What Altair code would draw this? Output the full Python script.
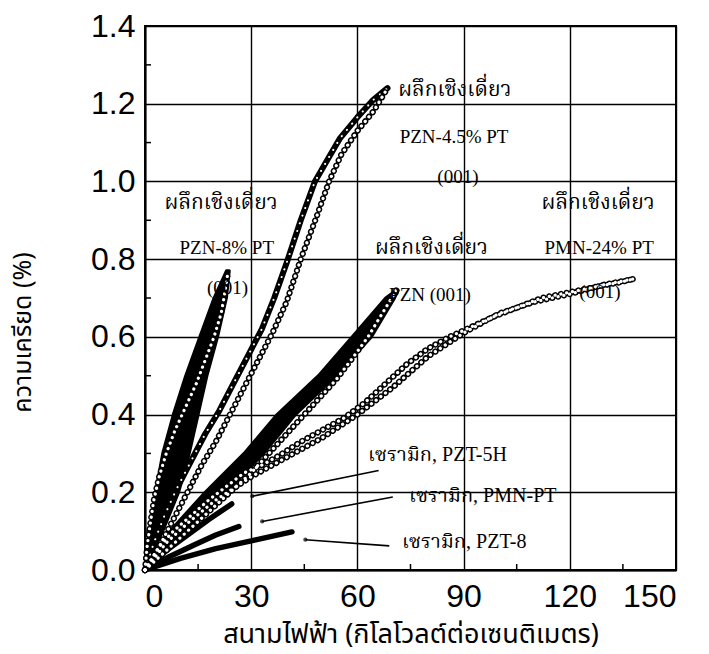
import altair as alt
import pandas as pd

# ---------------- data ----------------
# Electric field E (kV/cm), strain S (%)

# PZN-8% PT (001) single crystal: broad black loop (left/right edge at strain levels)
pzn8_band_S = [0, 0.1, 0.2, 0.3, 0.4, 0.5, 0.6, 0.7, 0.77]
pzn8_band_left_E = [0, 1.2, 3, 5, 8, 11.5, 15.5, 19.5, 23]
pzn8_band_right_E = [0, 5, 9.5, 12.5, 15, 17.5, 20.5, 23, 23.8]
pzn8_open_E = [0, 0.6, 1.5, 2.5, 4, 6, 8.5, 11.5, 14.5, 17, 19.5, 21.5, 22.3, 23, 23.5]
pzn8_open_S = [0, 0.06, 0.12, 0.18, 0.24, 0.3, 0.36, 0.42, 0.48, 0.54, 0.6, 0.66, 0.7, 0.74, 0.77]

# PZN-4.5% PT (001) single crystal
pzn45_left_E = [0, 2.5, 5.5, 9, 13, 17, 21, 25, 29, 33, 36.5, 40, 44, 48, 51.5, 55, 60, 64.5, 68.5]
pzn45_left_S = [0, 0.07, 0.14, 0.21, 0.28, 0.35, 0.41, 0.48, 0.55, 0.62, 0.7, 0.79, 0.9, 1.0, 1.055, 1.11, 1.165, 1.21, 1.24]
pzn45_right_E = [0, 4, 8, 12, 16, 20, 24, 28, 32, 36, 40, 44, 48.5, 52, 55.5, 60, 64.5, 68.5]
pzn45_right_S = [0, 0.06, 0.13, 0.2, 0.27, 0.33, 0.4, 0.47, 0.54, 0.61, 0.69, 0.8, 0.91, 1.0, 1.07, 1.13, 1.18, 1.24]

# PZN (001) single crystal: black loop band + open-circle branch
pzn_band_S = [0, 0.1, 0.2, 0.3, 0.4, 0.5, 0.6, 0.7, 0.72]
pzn_band_left_E = [0, 7, 17, 28, 37.3, 49, 58.5, 68, 71]
pzn_band_right_E = [0, 11, 23, 33.5, 42.5, 54, 64, 70.5, 71.5]
pzn_open_E = [0, 6, 12, 18, 24, 30, 36, 42, 48, 54, 59, 63, 67, 71]
pzn_open_S = [0, 0.05, 0.1, 0.15, 0.2, 0.25, 0.31, 0.37, 0.43, 0.49, 0.55, 0.6, 0.66, 0.72]

# PMN-24% PT (001) single crystal
pmn24_a_E = [0, 4, 8, 13, 18, 23, 28, 33, 38, 44, 50, 56, 62, 68, 74, 80, 86, 92, 98, 105, 112, 120, 128, 134, 138.5]
pmn24_a_S = [0, 0.06, 0.1, 0.14, 0.18, 0.215, 0.25, 0.27, 0.295, 0.33, 0.36, 0.39, 0.43, 0.48, 0.53, 0.57, 0.6, 0.625, 0.65, 0.675, 0.7, 0.715, 0.73, 0.74, 0.75]
pmn24_b_E = [0, 6, 12, 20, 30, 40, 50, 60, 70, 80, 90, 100, 110, 120, 130, 138.5]
pmn24_b_S = [0, 0.07, 0.12, 0.18, 0.24, 0.29, 0.34, 0.4, 0.47, 0.55, 0.61, 0.66, 0.69, 0.71, 0.735, 0.75]

# ceramics
pzt5h_E = [0, 6, 12, 18, 24.5]
pzt5h_S = [0, 0.05, 0.09, 0.13, 0.17]
pmnpt_E = [0, 7, 14, 20, 26.5]
pmnpt_S = [0, 0.035, 0.065, 0.09, 0.112]
pzt8_E = [0, 10, 20, 30, 41.5]
pzt8_S = [0, 0.03, 0.055, 0.075, 0.098]

# annotation pointer lines (start at label, end at curve)
pointer_names = ["PZT-5H", "PMN-PT", "PZT-8"]
pointer_E0 = [66, 70, 69]
pointer_S0 = [0.256, 0.188, 0.062]
pointer_E1 = [30.3, 33.1, 45.3]
pointer_S1 = [0.19, 0.125, 0.078]

# labels
crystal_word = "ผลึกเชิงเดี่ยว"
thai_label_E = [87.5, 21.5, 80.9, 128.0]
thai_label_S = [1.235, 0.944, 0.828, 0.944]
latin_label_text = ["PZN-4.5% PT", "(001)", "PZN-8% PT", "(001)", "PZN (001)", "PMN-24% PT", "(001)"]
latin_label_E = [87.3, 88.4, 23.1, 23.3, 80.5, 128.3, 128.5]
latin_label_S = [1.114, 1.011, 0.828, 0.725, 0.708, 0.828, 0.716]
ceramic_text = ["เซรามิก, PZT-5H", "เซรามิก, PMN-PT", "เซรามิก, PZT-8"]
ceramic_E = [63.0, 74.6, 72.6]
ceramic_S = [0.296, 0.19, 0.071]

x_ticks = [0, 30, 60, 90, 120, 150]
y_ticks = [0.0, 0.2, 0.4, 0.6, 0.8, 1.0, 1.2, 1.4]
x_minor = [15, 45, 75, 105, 135]
y_minor = [0.1, 0.3, 0.5, 0.7, 0.9, 1.1, 1.3]

x_title = "สนามไฟฟ้า (กิโลโวลต์ต่อเซนติเมตร)"
y_title = "ความเครียด (%)"

# ---------------- build tables ----------------
branches = [
    ("pzn8_o", "open", pzn8_open_E, pzn8_open_S),
    ("pzn45_l", "mixed", pzn45_left_E, pzn45_left_S),
    ("pzn45_r", "open", pzn45_right_E, pzn45_right_S),
    ("pzn_o", "open", pzn_open_E, pzn_open_S),
    ("pmn24_a", "open", pmn24_a_E, pmn24_a_S),
    ("pmn24_b", "open", pmn24_b_E, pmn24_b_S),
    ("pzt5h", "ceramic", pzt5h_E, pzt5h_S),
    ("pmnpt", "ceramic", pmnpt_E, pmnpt_S),
    ("pzt8", "ceramic", pzt8_E, pzt8_S),
]
rows = []
for name, style, E, S in branches:
    for i, (e, s) in enumerate(zip(E, S)):
        rows.append({"branch": name, "style": style, "E": e, "S": s, "i": i})
curves = pd.DataFrame(rows)

# loop bands as closed outlines: up the left edge, back down the right edge
band_rows = []
for name, S_list, L, R in [("pzn8", pzn8_band_S, pzn8_band_left_E, pzn8_band_right_E),
                           ("pzn", pzn_band_S, pzn_band_left_E, pzn_band_right_E)]:
    k = 0
    for s, l in zip(S_list, L):
        band_rows.append({"branch": name, "E": l, "S": s, "i": k}); k += 1
    for s, r in zip(S_list[::-1], R[::-1]):
        band_rows.append({"branch": name, "E": r, "S": s, "i": k}); k += 1
bands = pd.DataFrame(band_rows)

pointers = pd.DataFrame({"name": pointer_names, "E": pointer_E0, "S": pointer_S0,
                         "E2": pointer_E1, "S2": pointer_S1})
thai_labels = pd.DataFrame({"text": [crystal_word] * 4, "E": thai_label_E, "S": thai_label_S})
latin_labels = pd.DataFrame({"text": latin_label_text, "E": latin_label_E, "S": latin_label_S})
ceramic_labels = pd.DataFrame({"text": ceramic_text, "E": ceramic_E, "S": ceramic_S})
xminor_df = pd.DataFrame({"E": x_minor})
yminor_df = pd.DataFrame({"S": y_minor})

THAI_FONT = "Noto Sans Thai, Noto Serif Thai, Garuda, Loma, Tlwg Typo, Kinnari, sans-serif"
THAI_LABEL_FONT = "Noto Serif Thai, Noto Sans Thai Looped, Kinnari, Noto Sans Thai, serif"
SERIF_FONT = "Liberation Serif, Noto Serif Thai, Kinnari, Noto Sans Thai, serif"

xs = alt.Scale(domain=[0, 150], nice=False)
ys = alt.Scale(domain=[0, 1.4], nice=False)

x_enc = alt.X("E:Q", scale=xs, axis=alt.Axis(
    values=x_ticks, title=x_title, grid=True, ticks=False, labelPadding=11,
    titleX=265.5, titleY=64, titleBaseline="middle", titleFont=THAI_FONT,
    titleFontSize=27, titleFontWeight="normal"))
y_enc = alt.Y("S:Q", scale=ys, axis=alt.Axis(
    values=y_ticks, title=y_title, grid=True, ticks=False, labelPadding=10,
    format=".1f", titleX=-123, titleY=306, titleAngle=270, titleBaseline="middle",
    titleAlign="center", titleFont=THAI_FONT, titleFontSize=25, titleFontWeight="normal"))

band_layer = alt.Chart(bands).mark_line(
    fill="black", stroke="black", strokeWidth=3, strokeJoin="round").encode(
    x=x_enc, y=y_enc, detail="branch:N", order="i:Q")

base = alt.Chart(curves).encode(x=x_enc, y=y_enc, detail="branch:N", order="i:Q")

ceramic = base.transform_filter(alt.datum.style == "ceramic").mark_line(
    color="black", strokeWidth=5.5, strokeCap="round", strokeJoin="round")
mixed_black = base.transform_filter(alt.datum.style == "mixed").mark_line(
    color="black", strokeWidth=6, strokeCap="round", strokeJoin="round")
mixed_white = base.transform_filter(alt.datum.style == "mixed").mark_line(
    color="white", strokeWidth=2, strokeCap="round", strokeDash=[0.1, 8])
open_black = base.transform_filter(alt.datum.style == "open").mark_line(
    color="black", strokeWidth=6.2, strokeCap="round", strokeJoin="round", strokeDash=[0.1, 5.8])
open_white = base.transform_filter(alt.datum.style == "open").mark_line(
    color="white", strokeWidth=3.2, strokeCap="round", strokeJoin="round", strokeDash=[0.1, 5.8])

ptr = alt.Chart(pointers).mark_rule(color="black", strokeWidth=1.6).encode(
    x=alt.X("E:Q", scale=xs), y=alt.Y("S:Q", scale=ys), x2="E2:Q", y2="S2:Q")
ptr_head = alt.Chart(pointers).mark_point(shape="circle", filled=True, color="black", size=18).encode(
    x=alt.X("E2:Q", scale=xs), y=alt.Y("S2:Q", scale=ys))

thai_txt = alt.Chart(thai_labels).mark_text(
    font=THAI_LABEL_FONT, fontSize=21, align="center", baseline="middle", color="black").encode(
    x=alt.X("E:Q", scale=xs), y=alt.Y("S:Q", scale=ys), text="text:N")
latin_txt = alt.Chart(latin_labels).mark_text(
    font=SERIF_FONT, fontSize=19, align="center", baseline="middle", color="black").encode(
    x=alt.X("E:Q", scale=xs), y=alt.Y("S:Q", scale=ys), text="text:N")
cer_txt = alt.Chart(ceramic_labels).mark_text(
    font=SERIF_FONT, fontSize=20, align="left", baseline="middle", color="black").encode(
    x=alt.X("E:Q", scale=xs), y=alt.Y("S:Q", scale=ys), text="text:N")

xminor = alt.Chart(xminor_df).mark_rule(color="black", strokeWidth=1.5).encode(
    x=alt.X("E:Q", scale=xs), y=alt.value(544), y2=alt.value(538))
yminor = alt.Chart(yminor_df).mark_rule(color="black", strokeWidth=1.5).encode(
    y=alt.Y("S:Q", scale=ys), x=alt.value(0), x2=alt.value(6))

chart = alt.layer(
    band_layer, ceramic, mixed_black, mixed_white, open_black, open_white,
    ptr, ptr_head, thai_txt, latin_txt, cer_txt, xminor, yminor
).properties(
    width=531, height=544,
    padding={"left": 145, "top": 26, "right": 33, "bottom": 84},
    autosize=alt.AutoSizeParams(type="none"),
    background="white",
).configure_view(
    stroke="black", strokeWidth=2
).configure_axis(
    labelFont="Liberation Sans", labelFontSize=32, labelColor="black",
    domainColor="black", domainWidth=2, gridColor="black", gridWidth=1.4,
    gridOpacity=1, titleColor="black"
)

chart.save("out.html", embed_options={"renderer": "svg", "actions": False})
